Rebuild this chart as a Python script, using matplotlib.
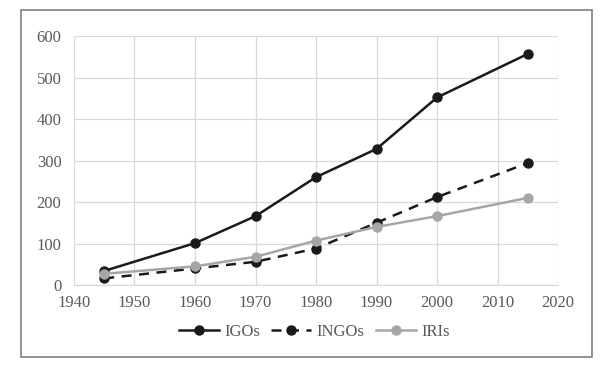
import matplotlib.pyplot as plt
from matplotlib.patches import Rectangle

plt.rcParams['font.family'] = ['Liberation Serif', 'DejaVu Serif']

years = [1945, 1960, 1970, 1980, 1990, 2000, 2015]
igos = [34, 101, 166, 260, 328, 452, 557]
ingos = [16, 40, 56, 88, 150, 212, 294]
iris = [27, 45, 68, 107, 140, 166, 210]

x_ticks = [1940, 1950, 1960, 1970, 1980, 1990, 2000, 2010, 2020]
y_ticks = [0, 100, 200, 300, 400, 500, 600]

fig = plt.figure(figsize=(6.02, 3.68), dpi=100)
ax = fig.add_axes([0.1229, 0.2255, 0.8041, 0.6765])

# 外框
fig.patches.append(Rectangle((0.0349, 0.0299), 0.9485, 0.943, transform=fig.transFigure,
                             fill=False, edgecolor='#7f7f7f', linewidth=1.2))

ax.plot(years, igos, color='#1a1a1a', lw=1.8, marker='o', ms=6.5, label='IGOs', zorder=3)
ax.plot(years, ingos, color='#1a1a1a', lw=1.8, ls=(0, (4, 3)), marker='o', ms=6.5, label='INGOs', zorder=3)
ax.plot(years, iris, color='#a6a6a6', lw=1.8, marker='o', ms=6.5, label='IRIs', zorder=3)

ax.set_xlim(1940, 2020)
ax.set_ylim(0, 600)
ax.set_xticks(x_ticks)
ax.set_yticks(y_ticks)
ax.grid(True, color='#d9d9d9', lw=0.9)
ax.set_axisbelow(True)
for s in ['top', 'right', 'left']:
    ax.spines[s].set_visible(False)
ax.spines['bottom'].set_color('#d9d9d9')
ax.tick_params(length=0, labelsize=12, colors='#595959')
ax.tick_params(axis='x', pad=7)
ax.tick_params(axis='y', pad=9)

ax.legend(loc='center', bbox_to_anchor=(0.522, 0.098), bbox_transform=fig.transFigure,
          ncol=3, frameon=False, fontsize=12, handlelength=2.4, columnspacing=0.7,
          handletextpad=0.3, labelcolor='#595959')

fig.savefig('out.png', dpi=100, facecolor='white')
